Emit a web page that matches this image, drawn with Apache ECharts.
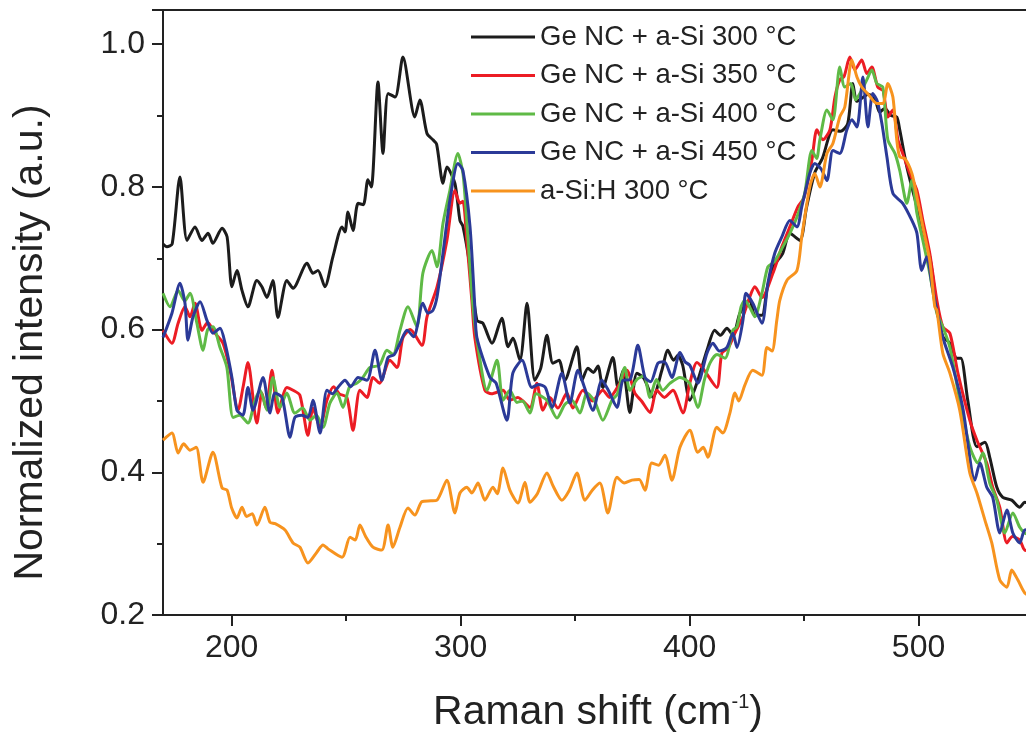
<!DOCTYPE html>
<html>
<head>
<meta charset="utf-8">
<script src="https://cdn.jsdelivr.net/npm/echarts@6/dist/echarts.min.js"></script>
<style>html,body{margin:0;padding:0;background:#fff}#c{width:1026px;height:735px}</style>
</head>
<body>
<div id="c"></div>
<script>
const seriesNames = ['Ge NC + a-Si 300 °C', 'Ge NC + a-Si 350 °C', 'Ge NC + a-Si 400 °C', 'Ge NC + a-Si 450 °C', 'a-Si:H 300 °C'];
const seriesColors = ['#1c1c1c', '#ec1c24', '#5fba46', '#2b3a98', '#f7931e'];
const xMajorTicks = [200, 300, 400, 500];
const xMinorTicks = [250, 350, 450];
const yTicks = [0.2, 0.4, 0.6, 0.8, 1.0];

// [Raman shift (cm-1), normalized intensity]
const ge300 = [[170,0.72],[171.7,0.716],[174,0.72],[177.4,0.814],[180.5,0.725],[184,0.744],[187,0.725],[189.7,0.735],[191.8,0.721],[195.8,0.742],[198,0.73],[200.1,0.66],[202.3,0.683],[204.5,0.655],[207.1,0.632],[211,0.669],[213.2,0.66],[215.4,0.645],[218,0.669],[220.2,0.617],[224.1,0.669],[226.8,0.658],[232.9,0.693],[235.5,0.679],[237.7,0.683],[240.7,0.66],[244.2,0.702],[248.2,0.744],[249.5,0.737],[250.8,0.765],[253,0.739],[255.2,0.777],[257.5,0.775],[259.5,0.81],[261,0.8],[263.9,0.947],[266.1,0.847],[268.3,0.931],[271.4,0.926],[274.8,0.982],[280,0.898],[282.2,0.922],[285.3,0.875],[287.9,0.866],[289.5,0.86],[292.3,0.805],[294,0.828],[297.5,0.805],[299.7,0.753],[301,0.745],[304.1,0.688],[307.1,0.613],[309.7,0.609],[313.7,0.581],[318,0.616],[320.7,0.576],[322.8,0.588],[325.9,0.557],[329,0.637],[332.4,0.529],[335,0.546],[337.7,0.592],[340.3,0.553],[343,0.557],[345.5,0.529],[350.8,0.576],[353,0.529],[355.6,0.546],[358,0.54],[360,0.549],[362.1,0.519],[366.5,0.561],[368.7,0.519],[371,0.543],[373.9,0.484],[377,0.539],[380,0.532],[384,0.505],[387.9,0.543],[390.5,0.571],[393,0.557],[394.9,0.564],[397,0.55],[400.1,0.501],[403.6,0.529],[407.6,0.571],[411,0.599],[413.5,0.592],[416.3,0.602],[419,0.592],[422,0.623],[426.3,0.641],[428.5,0.62],[431.6,0.62],[434,0.66],[437,0.69],[440.7,0.707],[443.8,0.735],[448.2,0.725],[451,0.77],[454.7,0.82],[458,0.84],[462.6,0.88],[466,0.878],[469.1,0.889],[471.3,0.945],[473,0.92],[475.5,0.925],[478,0.93],[480.9,0.924],[483,0.905],[485.3,0.91],[488,0.9],[490.5,0.898],[491.8,0.88],[494.9,0.828],[499.3,0.772],[504.9,0.702],[508,0.632],[510.6,0.59],[513.7,0.581],[516.7,0.56],[518.5,0.56],[521.5,0.501],[525.5,0.436],[529,0.442],[531.1,0.421],[534.2,0.379],[536.8,0.365],[540.7,0.361],[544.2,0.351],[546.4,0.358],[550,0.355]];

const ge350 = [[170,0.599],[173.9,0.581],[176.6,0.609],[179.6,0.632],[181.8,0.618],[184,0.637],[187,0.599],[189.5,0.61],[192.7,0.595],[196.2,0.581],[199.3,0.543],[202.8,0.487],[205,0.52],[207.1,0.554],[211,0.469],[213.2,0.511],[215,0.49],[217.6,0.543],[220.2,0.483],[224.1,0.519],[226.8,0.515],[229.8,0.508],[233.3,0.452],[235.5,0.49],[238.6,0.463],[241.6,0.501],[244.5,0.52],[247,0.51],[250.3,0.505],[253,0.459],[256,0.515],[259.1,0.505],[261.7,0.533],[264.5,0.525],[269.1,0.557],[272.2,0.547],[274.8,0.589],[278,0.6],[283.1,0.578],[285.3,0.618],[289.7,0.66],[294,0.725],[297.5,0.795],[299.7,0.777],[301,0.78],[302.7,0.725],[304.9,0.641],[306.2,0.589],[310.6,0.515],[313.5,0.51],[318.5,0.515],[321.5,0.501],[325,0.505],[330.3,0.491],[333.3,0.525],[335.9,0.487],[339,0.505],[342.5,0.49],[346.4,0.511],[349,0.49],[353.4,0.515],[357.5,0.5],[362.1,0.515],[365,0.505],[369.6,0.525],[372.6,0.543],[376.1,0.511],[379,0.5],[382.7,0.484],[385.7,0.515],[389,0.505],[392.7,0.515],[397.1,0.483],[400.1,0.525],[403.2,0.554],[406,0.545],[411.9,0.519],[414.1,0.567],[417,0.575],[419.8,0.595],[423.3,0.618],[426.3,0.646],[428.5,0.66],[431.6,0.645],[436.4,0.679],[440.3,0.716],[443.8,0.744],[447.3,0.772],[450,0.785],[453.4,0.837],[455.6,0.88],[458.2,0.866],[461.3,0.88],[463.5,0.926],[465.6,0.95],[467.5,0.955],[470,0.982],[472.2,0.964],[475.2,0.978],[477.4,0.959],[479.6,0.968],[482.2,0.94],[484.5,0.935],[486.6,0.898],[488.8,0.908],[491,0.866],[493.1,0.847],[496.2,0.819],[499.3,0.795],[501.9,0.753],[504.9,0.707],[508,0.641],[510.6,0.604],[513.7,0.595],[517.2,0.539],[522.4,0.473],[525.5,0.445],[529.8,0.413],[532.4,0.379],[535.5,0.351],[538.6,0.301],[541,0.31],[544.2,0.305],[546.4,0.291],[550,0.29]];

const ge400 = [[170,0.651],[173.1,0.632],[176.6,0.655],[179.5,0.64],[181.8,0.651],[184.8,0.609],[187.5,0.571],[189.5,0.6],[191.8,0.604],[194.9,0.575],[197.9,0.547],[200.6,0.477],[203.5,0.48],[207.1,0.469],[210.2,0.501],[212.4,0.515],[215.4,0.487],[218,0.533],[221.1,0.491],[224.1,0.511],[227.6,0.483],[231,0.49],[234.2,0.473],[237,0.48],[239.9,0.463],[242.9,0.497],[246,0.511],[248.6,0.491],[251.5,0.52],[254.7,0.525],[257.3,0.533],[260.4,0.547],[264.5,0.55],[267.8,0.571],[270.5,0.565],[273.5,0.599],[277,0.632],[280.9,0.604],[283.5,0.679],[287.5,0.711],[289.7,0.688],[292.3,0.749],[295.3,0.795],[298.8,0.847],[301,0.819],[302.5,0.76],[305.4,0.632],[307.6,0.575],[311.5,0.515],[315.9,0.557],[318.5,0.501],[321.5,0.515],[324.6,0.498],[327,0.5],[330.3,0.483],[333,0.51],[337.7,0.501],[342.1,0.476],[345.5,0.495],[348.6,0.501],[352.1,0.483],[355.2,0.511],[358.5,0.5],[362.1,0.473],[366.1,0.501],[368.5,0.51],[371.7,0.547],[373.9,0.515],[377,0.53],[380,0.535],[382.7,0.505],[385.5,0.53],[388.3,0.515],[391.5,0.525],[395.8,0.533],[400,0.525],[403.6,0.491],[406.5,0.53],[408.9,0.553],[412,0.565],[415.5,0.56],[418.9,0.599],[420.7,0.604],[422.5,0.632],[424.1,0.641],[426.5,0.63],[428.5,0.618],[431.6,0.651],[434.2,0.688],[437,0.695],[440.7,0.716],[443.8,0.735],[446.9,0.758],[450.3,0.791],[453.4,0.851],[455.5,0.84],[456.9,0.866],[460,0.908],[462.6,0.894],[465.6,0.968],[467.8,0.94],[470.5,0.945],[472.5,0.922],[474.4,0.931],[477.4,0.95],[479.6,0.964],[481.8,0.945],[484.4,0.94],[486.6,0.866],[489.7,0.847],[491.8,0.823],[494.9,0.777],[497.1,0.809],[499.3,0.763],[501.9,0.725],[504.9,0.679],[508,0.623],[510.6,0.604],[513.7,0.575],[518,0.501],[522.4,0.436],[525.9,0.413],[528.1,0.427],[531.1,0.385],[534.2,0.361],[537.7,0.315],[541.2,0.343],[544.2,0.323],[546.4,0.315],[550,0.31]];

const ge450 = [[170,0.589],[173.9,0.623],[177.4,0.665],[179.6,0.637],[180.9,0.585],[183.1,0.618],[186.2,0.639],[189.2,0.613],[191.8,0.595],[194.9,0.602],[197.1,0.581],[200.1,0.533],[202.3,0.487],[204.9,0.48],[207.1,0.519],[209.3,0.487],[213.7,0.533],[216.7,0.483],[218.9,0.511],[222,0.505],[225.5,0.449],[227.6,0.477],[230.5,0.48],[233.3,0.477],[235.5,0.501],[238.6,0.455],[241.6,0.515],[244,0.51],[246.4,0.519],[249.5,0.529],[252,0.52],[255.2,0.533],[259.1,0.529],[262.6,0.571],[265.6,0.529],[268.3,0.561],[271,0.565],[273.5,0.581],[276.6,0.599],[279.5,0.59],[283.5,0.637],[285.7,0.623],[287.9,0.627],[289.7,0.646],[292.3,0.707],[295.3,0.781],[298.8,0.833],[301,0.823],[304.1,0.744],[306.2,0.632],[307.1,0.589],[312.8,0.533],[315.5,0.525],[320.2,0.473],[322.8,0.539],[326.8,0.557],[331.1,0.519],[334,0.523],[337,0.519],[339.9,0.491],[344.2,0.539],[347.7,0.497],[351.2,0.543],[354,0.52],[357.8,0.487],[361.7,0.529],[364.5,0.515],[368.3,0.491],[370.9,0.529],[374,0.53],[377.4,0.578],[380.5,0.533],[383,0.527],[386.2,0.553],[389,0.555],[392.3,0.533],[395.8,0.568],[398,0.555],[400.1,0.55],[403.6,0.525],[407.6,0.567],[410.2,0.581],[413,0.57],[416.3,0.575],[418.9,0.595],[420.7,0.575],[423.3,0.613],[424.6,0.651],[427.6,0.637],[431.6,0.609],[434.2,0.665],[437.2,0.707],[440.3,0.73],[443.8,0.753],[446.9,0.744],[449,0.772],[452.5,0.819],[454.7,0.833],[457.5,0.825],[460,0.809],[462.6,0.851],[465.6,0.847],[468.7,0.88],[470.9,0.894],[473.1,0.884],[475.7,0.954],[477.9,0.884],[480,0.931],[482,0.92],[484,0.889],[486.2,0.842],[488.8,0.791],[493.1,0.777],[497.1,0.753],[499.3,0.735],[501.4,0.683],[503.6,0.702],[506,0.66],[508,0.627],[510.6,0.589],[515,0.547],[519.3,0.491],[524.6,0.389],[526.8,0.413],[529.8,0.379],[532.4,0.365],[535.5,0.315],[538.6,0.347],[541.2,0.315],[544.2,0.301],[546.4,0.319],[550,0.32]];

const aSiH300 = [[170,0.445],[173.9,0.455],[176.6,0.427],[179,0.44],[181.8,0.431],[184.5,0.435],[187.5,0.386],[191.8,0.428],[195.8,0.378],[198,0.375],[200,0.35],[202.3,0.336],[204.5,0.351],[206.5,0.338],[209,0.342],[211,0.326],[214.5,0.351],[216.7,0.33],[219,0.328],[223.3,0.319],[226.8,0.301],[229.8,0.295],[233.3,0.273],[237.2,0.288],[239.9,0.298],[242,0.293],[248.2,0.281],[251.7,0.309],[254,0.305],[256,0.326],[258.5,0.31],[261.7,0.295],[265.6,0.291],[268.3,0.326],[270.4,0.295],[273.5,0.323],[277,0.35],[280,0.34],[283.1,0.359],[287,0.36],[289.7,0.361],[294,0.389],[297.5,0.343],[299.7,0.371],[302.7,0.379],[304.9,0.371],[307.6,0.385],[310.6,0.361],[314.1,0.379],[316,0.37],[318.5,0.406],[321.5,0.375],[325,0.357],[328.1,0.386],[330.3,0.358],[333.5,0.37],[337.7,0.399],[340.5,0.38],[344.2,0.361],[347.5,0.375],[350.8,0.399],[354.3,0.361],[357.5,0.375],[360.8,0.385],[364.3,0.343],[368.3,0.393],[371.5,0.385],[374.8,0.389],[378,0.39],[380.5,0.375],[383.5,0.413],[386.5,0.41],[389.2,0.424],[392.3,0.389],[395.8,0.435],[400.1,0.459],[403.6,0.428],[406,0.435],[408,0.421],[411.9,0.463],[414.5,0.455],[417.6,0.483],[419.8,0.511],[421.5,0.5],[424.1,0.522],[427.6,0.543],[431.6,0.536],[433.8,0.575],[436,0.57],[438.1,0.613],[439.4,0.641],[442.5,0.669],[446.9,0.683],[449,0.73],[452.5,0.8],[454.7,0.819],[456.9,0.8],[460,0.847],[462.6,0.861],[465.6,0.898],[467.8,0.912],[470.9,0.978],[473.1,0.954],[475.2,0.94],[478,0.93],[481.8,0.917],[484.5,0.917],[486.6,0.945],[488.8,0.926],[490.5,0.866],[491.8,0.842],[494,0.84],[497.1,0.819],[499.3,0.786],[501.9,0.744],[504.9,0.697],[507.1,0.632],[508,0.627],[510.6,0.567],[513.7,0.539],[518,0.487],[522.4,0.399],[525.5,0.371],[529,0.333],[532,0.301],[535.5,0.249],[538.6,0.239],[540.7,0.263],[543.4,0.249],[546.4,0.231],[550,0.225]];

const allData = [ge300, ge350, ge400, ge450, aSiH300];
const FONT = 'Liberation Sans, Arial, sans-serif';
const INK = '#222';

const chart = echarts.init(document.getElementById('c'), null, { renderer: 'canvas' });
chart.setOption({
  animation: false,
  backgroundColor: '#fff',
  grid: { left: 163, right: -7, top: 10, bottom: 120, show: true, borderColor: INK, borderWidth: 2, containLabel: false, outerBoundsMode: 'none' },
  legend: {
    orient: 'vertical', left: 466, top: 18, itemWidth: 64, itemHeight: 3, icon: 'rect', itemGap: 10.5,
    textStyle: { fontSize: 27.5, color: INK, fontFamily: FONT },
    data: seriesNames
  },
  xAxis: [
    {
      type: 'value', min: 170, max: 550, position: 'bottom',
      axisLine: { show: true, onZero: false, lineStyle: { color: INK, width: 2 } },
      axisTick: { show: true, inside: false, length: 11, customValues: xMajorTicks, lineStyle: { color: INK, width: 2 } },
      axisLabel: { show: true, customValues: xMajorTicks, fontSize: 32, color: INK, fontFamily: FONT, margin: 17 },
      splitLine: { show: false },
      name: '{a|Raman shift (cm}{s|-1}{a|)}', nameLocation: 'middle', nameGap: 77,
      nameTextStyle: { rich: {
        a: { fontSize: 41, color: INK, fontFamily: FONT, verticalAlign: 'bottom' },
        s: { fontSize: 20, color: INK, fontFamily: FONT, verticalAlign: 'top' }
      } }
    },
    {
      type: 'value', min: 170, max: 550, position: 'bottom',
      axisLine: { show: false, onZero: false },
      axisTick: { show: true, inside: false, length: 6, customValues: xMinorTicks, lineStyle: { color: INK, width: 2 } },
      axisLabel: { show: false },
      splitLine: { show: false }
    }
  ],
  yAxis: {
    type: 'value', min: 0.2, max: 1.048, interval: 0.2,
    axisLine: { show: true, onZero: false, lineStyle: { color: INK, width: 2 } },
    axisTick: { show: true, inside: false, length: 11, lineStyle: { color: INK, width: 2 } },
    minorTick: { show: true, splitNumber: 2, length: 6, lineStyle: { color: INK, width: 2 } },
    splitLine: { show: false },
    axisLabel: { fontSize: 32, color: INK, fontFamily: FONT, margin: 18, showMaxLabel: false,
      formatter: v => (yTicks.some(t => Math.abs(t - v) < 1e-6) ? v.toFixed(1) : '') },
    name: 'Normalized intensity (a.u.)', nameLocation: 'middle', nameGap: 112,
    nameTextStyle: { fontSize: 41, color: INK, fontFamily: FONT, padding: [0, 60, 0, 0] }
  },
  series: allData.map((d, i) => ({
    name: seriesNames[i], type: 'line', data: d, xAxisIndex: 0, yAxisIndex: 0,
    showSymbol: false, symbol: 'none', smooth: 0.25, clip: true,
    color: seriesColors[i],
    lineStyle: { color: seriesColors[i], width: 3 }
  }))
});
</script>
</body>
</html>
